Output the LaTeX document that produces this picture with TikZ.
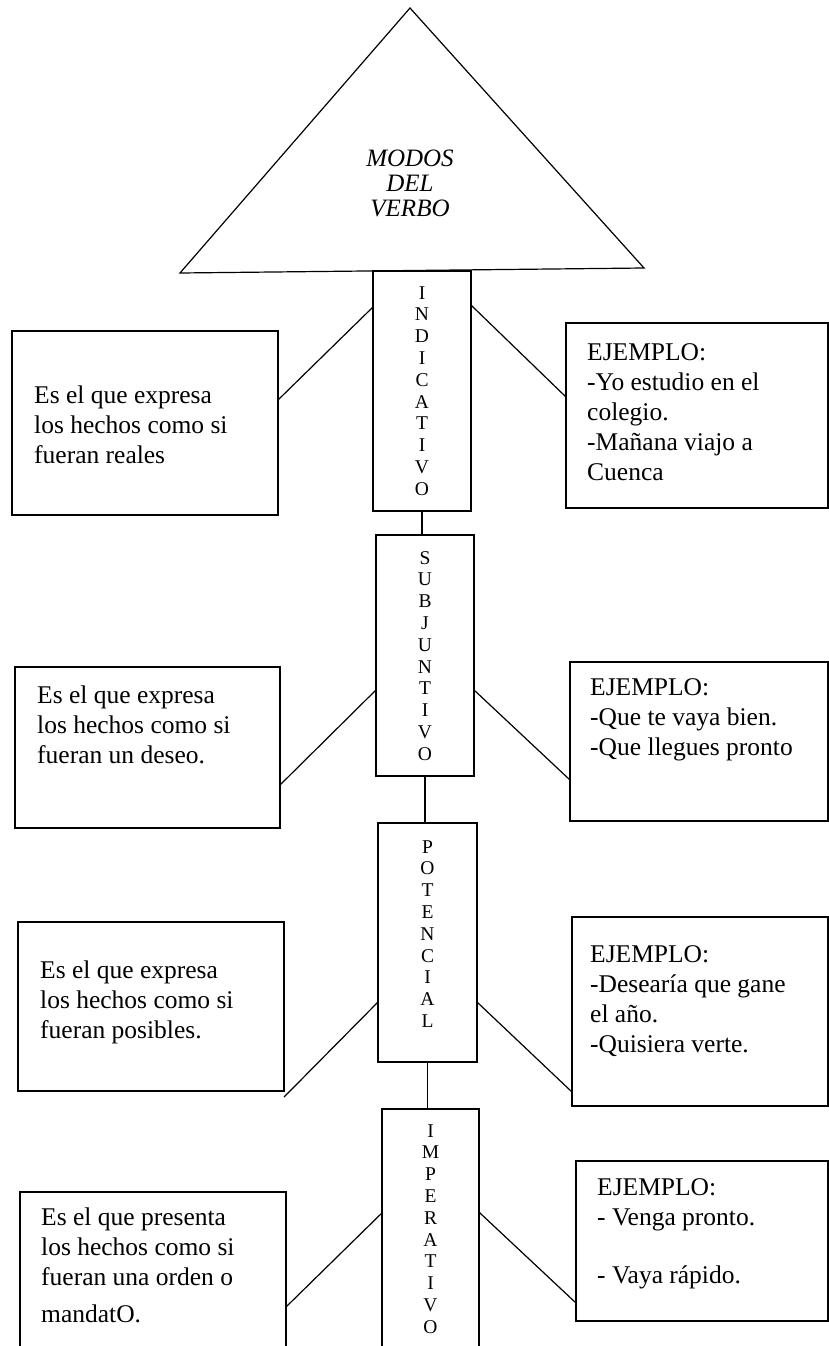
\documentclass[tikz,border=0pt]{standalone}
\usepackage{fontspec}
\setmainfont{Liberation Serif}
\usetikzlibrary{calc}
\begin{document}
\begin{tikzpicture}[x=1pt,y=-1pt,
  frame/.style={draw, line width=1.2pt, inner sep=0pt, outer sep=0pt, anchor=north west},
  link/.style={line width=1.2pt},
  body/.style={anchor=north west, align=left, inner sep=0pt, font=\fontsize{25.5}{30}\selectfont},
  letters/.style={anchor=north, align=center, inner sep=0pt, font=\fontsize{19.5}{21.8}\selectfont},
  title/.style={anchor=north, align=center, inner sep=0pt, font=\fontsize{25}{25}\selectfont\itshape},
]
\useasboundingbox (0,0) rectangle (829,1346);
\clip (0,0) rectangle (829,1346);

% heading triangle
\coordinate (apex) at (410,8);
\coordinate (baseL) at (180,273);
\coordinate (baseR) at (644,268);
\draw[link, line join=miter] (apex) -- (baseL) -- (baseR) -- cycle;
\node[title] (head) at (410,148.5) {\strut MODOS\\DEL\\VERBO};

% central column of moods
\node[frame, minimum width=98pt, minimum height=240pt] (ind) at (373,271) {};
\node[frame, minimum width=98pt, minimum height=241pt] (subj) at (376,535) {};
\node[frame, minimum width=99pt, minimum height=239pt] (pot) at (378,823) {};
\node[frame, minimum width=97pt, minimum height=261pt] (imp) at (382,1109) {};

\node[letters] (indT) at (422,283.7) {\strut I\\N\\D\\I\\C\\A\\T\\I\\V\\O};
\node[letters] (subjT) at (425,548.7) {\strut S\\U\\B\\J\\U\\N\\T\\I\\V\\O};
\node[letters] (potT) at (427.5,837.7) {\strut P\\O\\T\\E\\N\\C\\I\\A\\L};
\node[letters] (impT) at (430.5,1121.7) {\strut I\\M\\P\\E\\R\\A\\T\\I\\V\\O};

\draw[link] (ind.south) -- (ind.south |- subj.north);
\draw[link] (subj.south) -- (subj.south |- pot.north);
\draw[link] (pot.south) -- (pot.south |- imp.north);

% definition boxes (left)
\node[frame, minimum width=266pt, minimum height=184pt] (L1) at (12,331) {};
\node[frame, minimum width=265pt, minimum height=161pt] (L2) at (15,667) {};
\node[frame, minimum width=266pt, minimum height=169pt] (L3) at (18,922) {};
\node[frame, minimum width=266pt, minimum height=178pt] (L4) at (20,1192) {};

% example boxes (right)
\node[frame, minimum width=262pt, minimum height=185pt] (R1) at (566,323) {};
\node[frame, minimum width=258pt, minimum height=159pt] (R2) at (570,662) {};
\node[frame, minimum width=256pt, minimum height=189pt] (R3) at (572,917) {};
\node[frame, minimum width=252pt, minimum height=160pt] (R4) at (576,1161) {};

% texts
\node[body] (L1t) at (34,382) {\strut Es el que expresa\\los hechos como si\\fueran reales};
\node[body] (L2t) at (37,682) {\strut Es el que expresa\\los hechos como si\\fueran un deseo.};
\node[body] (L3t) at (40,957) {\strut Es el que expresa\\los hechos como si\\fueran posibles.};
\node[body] (L4t) at (41,1204) {\strut Es el que presenta\\los hechos como si\\fueran una orden o\\[7pt]mandatO.};

\node[body] (R1t) at (587,339) {\strut EJEMPLO:\\-Yo estudio en el\\colegio.\\-Mañana viajo a\\Cuenca};
\node[body] (R2t) at (590,674) {\strut EJEMPLO:\\-Que te vaya bien.\\-Que llegues pronto};
\node[body] (R3t) at (590,941) {\strut EJEMPLO:\\-Desearía que gane\\el año.\\-Quisiera verte.};
\node[body] (R4t) at (597,1174) {\strut EJEMPLO:\\- Venga pronto.\\[28pt]- Vaya rápido.};

% connectors between the columns
\draw[link] ($(L1.north east)!0.375!(L1.south east)$) -- ($(ind.north west)!0.15!(ind.south west)$);
\draw[link] ($(ind.north east)!0.142!(ind.south east)$) -- ($(R1.north west)!0.4!(R1.south west)$);

\draw[link] ($(L2.north east)!0.733!(L2.south east)$) -- ($(subj.north west)!0.643!(subj.south west)$);
\draw[link] ($(subj.north east)!0.643!(subj.south east)$) -- ($(R2.north west)!0.742!(R2.south west)$);

\draw[link] ($(L3.north east)!1.036!(L3.south east)$) -- ($(pot.north west)!0.749!(pot.south west)$);
\draw[link] ($(pot.north east)!0.749!(pot.south east)$) -- ($(R3.north west)!0.926!(R3.south west)$);

\draw[link] ($(L4.north east)!0.646!(L4.south east)$) -- ($(imp.north west)!0.398!(imp.south west)$);
\draw[link] ($(imp.north east)!0.395!(imp.south east)$) -- ($(R4.north west)!0.8875!(R4.south west)$);
\end{tikzpicture}
\end{document}
